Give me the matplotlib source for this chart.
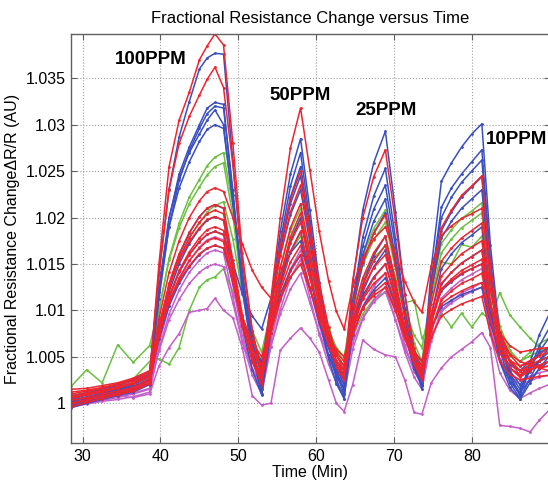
import numpy as np
import matplotlib
matplotlib.use("Agg")
import matplotlib.pyplot as plt

plt.rcParams['font.family'] = ['Liberation Sans', 'DejaVu Sans']

# sample times (min)
time_min = [28.5, 30.5, 32.5, 34.5, 36.5, 38.6,
            39.8, 41.1, 42.4, 43.7, 45.0, 46.0, 47.0, 48.1,
            49.3, 50.5, 51.8, 53.0,
            54.2, 55.4, 56.7, 58.0,
            59.2, 60.4, 61.6, 62.6, 63.6,
            64.7, 66.0, 67.4, 68.9,
            70.2, 71.4, 72.6, 73.6,
            74.8, 76.1, 77.4, 78.7, 80.0, 81.3,
            82.4, 83.6, 84.9, 86.2,
            87.5, 88.7, 89.9]

# fractional resistance change, stored as (R/R0 - 1) * 1e4
blue_1 = [2, 6, 10, 14, 20, 30, 141, 231, 287, 325, 360, 372, 377, 376, 261, 145, 62, 15, 110, 185, 247, 285, 208, 131, 70, 32, 10, 129, 208, 259, 293, 206, 118, 53, 20, 146, 239, 259, 276, 290, 301, 170, 74, 30, 10, 44, 74, 95]
blue_2 = [0, 5, 8, 13, 18, 26, 121, 199, 247, 276, 300, 318, 324, 322, 224, 123, 51, 10, 101, 174, 234, 270, 196, 122, 63, 26, 5, 109, 179, 223, 253, 177, 101, 44, 15, 131, 211, 232, 247, 260, 273, 154, 66, 27, 8, 37, 62, 80]
blue_3 = [-3, 3, 7, 10, 16, 24, 112, 190, 240, 272, 296, 312, 320, 318, 230, 128, 59, 20, 102, 168, 222, 255, 188, 121, 68, 34, 15, 107, 169, 209, 235, 168, 101, 50, 25, 132, 200, 222, 238, 250, 262, 151, 69, 32, 15, 37, 56, 70]
blue_4 = [4, 9, 12, 17, 22, 32, 125, 200, 243, 270, 290, 305, 316, 300, 215, 133, 67, 30, 105, 165, 215, 245, 182, 119, 70, 38, 20, 104, 160, 196, 220, 156, 92, 44, 20, 121, 186, 206, 222, 233, 244, 136, 58, 22, 5, 27, 46, 60]
blue_5 = [8, 11, 15, 19, 25, 34, 120, 190, 232, 260, 282, 295, 300, 296, 217, 134, 74, 40, 107, 160, 203, 230, 173, 115, 70, 41, 25, 101, 151, 183, 205, 149, 93, 51, 30, 120, 178, 196, 210, 220, 230, 136, 66, 35, 20, 34, 46, 55]
blue_6 = [-2, 2, 6, 9, 14, 22, 80, 128, 160, 183, 201, 210, 214, 210, 148, 83, 36, 9, 76, 129, 173, 200, 145, 91, 48, 21, 5, 79, 128, 159, 180, 128, 76, 37, 18, 95, 145, 161, 173, 181, 190, 106, 45, 17, 4, 22, 38, 50]
blue_7 = [-5, 0, 4, 8, 12, 20, 74, 120, 150, 172, 188, 197, 201, 197, 145, 88, 48, 25, 81, 126, 163, 185, 137, 90, 52, 29, 15, 78, 120, 147, 165, 119, 73, 39, 22, 86, 128, 141, 151, 158, 165, 96, 46, 23, 12, 25, 37, 45]
blue_8 = [3, 7, 11, 15, 20, 28, 75, 114, 141, 160, 174, 182, 185, 182, 151, 118, 94, 80, 113, 140, 162, 175, 136, 97, 66, 46, 35, 83, 116, 136, 150, 115, 80, 53, 40, 90, 121, 131, 139, 145, 150, 96, 56, 38, 30, 38, 45, 50]
blue_9 = [1, 4, 9, 12, 18, 25, 69, 105, 129, 147, 160, 167, 170, 167, 130, 90, 61, 45, 85, 117, 144, 160, 124, 87, 59, 40, 30, 74, 104, 122, 135, 106, 77, 56, 45, 81, 104, 111, 117, 121, 125, 85, 55, 41, 35, 45, 54, 60]

red_1 = [5, 9, 12, 16, 21, 28, 150, 255, 305, 335, 370, 385, 398, 386, 280, 162, 78, 30, 102, 159, 206, 235, 178, 120, 75, 46, 30, 132, 200, 244, 273, 195, 117, 59, 30, 127, 189, 208, 224, 234, 245, 148, 77, 45, 30, 42, 52, 60]
red_2 = [10, 13, 16, 20, 24, 32, 138, 230, 280, 309, 332, 349, 362, 340, 257, 153, 78, 35, 110, 170, 220, 250, 190, 130, 82, 52, 35, 106, 153, 183, 203, 149, 95, 55, 35, 107, 153, 167, 178, 186, 194, 122, 70, 46, 35, 41, 46, 50]
red_3 = [6, 10, 13, 18, 22, 30, 91, 141, 175, 200, 218, 228, 232, 228, 200, 172, 143, 125, 113, 200, 275, 318, 251, 185, 132, 99, 80, 126, 157, 177, 190, 161, 131, 109, 98, 148, 181, 191, 199, 204, 210, 134, 77, 52, 40, 46, 51, 55]
red_4 = [0, 4, 8, 11, 16, 24, 81, 129, 161, 184, 201, 210, 214, 210, 154, 95, 52, 28, 93, 146, 189, 215, 163, 111, 71, 45, 30, 93, 135, 162, 180, 132, 84, 48, 30, 95, 137, 150, 161, 168, 175, 109, 60, 38, 28, 35, 41, 45]
red_5 = [-4, 1, 5, 9, 13, 21, 77, 124, 156, 178, 195, 204, 208, 204, 148, 88, 44, 20, 85, 137, 179, 205, 155, 104, 65, 39, 25, 86, 127, 153, 170, 124, 77, 42, 25, 88, 129, 141, 151, 158, 165, 107, 64, 44, 35, 37, 39, 40]
red_6 = [12, 14, 17, 21, 26, 34, 84, 126, 154, 174, 189, 198, 201, 197, 148, 95, 57, 35, 91, 136, 173, 195, 152, 108, 74, 52, 40, 90, 124, 146, 160, 118, 77, 46, 30, 86, 123, 134, 143, 149, 155, 106, 69, 53, 45, 41, 38, 35]
red_7 = [-1, 3, 7, 10, 15, 22, 72, 114, 143, 163, 178, 187, 190, 186, 137, 84, 46, 25, 81, 126, 163, 185, 141, 97, 63, 41, 28, 79, 113, 135, 150, 111, 72, 43, 28, 78, 111, 121, 129, 134, 140, 91, 54, 38, 30, 36, 41, 45]
red_8 = [8, 11, 14, 17, 22, 30, 77, 115, 142, 160, 174, 182, 185, 181, 139, 92, 59, 40, 86, 122, 152, 170, 135, 100, 73, 55, 45, 85, 112, 129, 140, 108, 76, 52, 40, 81, 107, 115, 121, 126, 130, 90, 60, 46, 40, 43, 38, 40]
red_9 = [3, 6, 10, 13, 17, 26, 72, 110, 135, 154, 167, 175, 178, 174, 131, 83, 49, 30, 76, 112, 142, 160, 125, 90, 63, 45, 35, 75, 102, 119, 130, 100, 69, 46, 35, 71, 94, 101, 107, 111, 115, 75, 45, 31, 25, 27, 29, 30]
red_10 = [15, 16, 19, 22, 27, 35, 76, 109, 132, 148, 161, 167, 170, 167, 132, 93, 66, 50, 85, 113, 136, 150, 122, 94, 72, 58, 50, 82, 103, 116, 125, 99, 74, 55, 45, 92, 123, 132, 140, 145, 150, 107, 76, 62, 55, 57, 59, 60]

green_1 = [6, 10, 15, 19, 24, 32, 99, 156, 194, 222, 241, 256, 265, 270, 212, 132, 72, 40, 100, 147, 186, 210, 164, 118, 81, 58, 45, 113, 159, 188, 208, 156, 104, 65, 45, 122, 172, 187, 199, 207, 216, 139, 83, 57, 45, 51, 56, 60]
green_2 = [18, 36, 22, 63, 44, 62, 101, 154, 189, 215, 233, 246, 255, 259, 202, 122, 62, 30, 90, 137, 176, 200, 155, 110, 75, 53, 40, 105, 149, 176, 195, 145, 96, 59, 40, 114, 162, 177, 189, 197, 205, 129, 72, 47, 35, 41, 46, 50]
green_3 = [0, 5, 9, 13, 18, 26, 79, 125, 156, 179, 194, 206, 213, 217, 177, 120, 78, 55, 99, 134, 163, 180, 144, 107, 79, 60, 50, 100, 134, 156, 170, 135, 100, 73, 60, 114, 152, 150, 171, 168, 180, 119, 75, 54, 45, 55, 64, 70]
green_4 = [8, 12, 16, 20, 26, 45, 48, 42, 60, 100, 125, 133, 136, 145, 120, 92, 62, 45, 80, 112, 136, 150, 122, 95, 70, 52, 40, 72, 96, 112, 120, 115, 108, 111, 70, 85, 97, 82, 97, 82, 97, 90, 119, 95, 82, 70, 60, 55]

magenta_1 = [-2, 0, 3, 6, 10, 15, 64, 105, 133, 153, 168, 176, 179, 176, 127, 74, 36, 15, 68, 110, 144, 165, 124, 84, 52, 32, 20, 70, 104, 126, 140, 102, 63, 34, 20, 76, 113, 124, 133, 139, 145, 89, 48, 29, 20, 24, 28, 30]
magenta_2 = [-4, -1, 2, 4, 7, 12, 58, 96, 122, 141, 154, 162, 165, 162, 115, 66, 30, 10, 61, 101, 135, 155, 114, 74, 42, 22, 10, 58, 91, 111, 125, 90, 55, 28, 15, 67, 100, 110, 119, 124, 130, 74, 33, 14, 5, 11, 16, 20]
magenta_3 = [2, 0, 5, 8, 6, 10, 40, 60, 75, 98, 100, 102, 113, 100, 92, 60, 8, -2, 0, 57, 70, 81, 70, 55, 25, 0, -9, 20, 68, 58, 52, 50, 25, -10, -12, 22, 38, 50, 58, 66, 76, 60, -24, -25, -27, -31, -18, -8]
magenta_4 = [0, 3, 5, 8, 11, 16, 56, 90, 112, 129, 141, 147, 150, 147, 108, 67, 37, 20, 62, 96, 123, 140, 108, 76, 50, 34, 25, 65, 92, 109, 120, 90, 59, 36, 25, 70, 99, 108, 115, 120, 125, 80, 47, 32, 25, 29, 33, 35]

groups = [
    ("#6cc040", [green_1, green_2, green_3, green_4]),
    ("#c45ec8", [magenta_1, magenta_2, magenta_3, magenta_4]),
    ("#3a4fc0", [blue_1, blue_2, blue_3, blue_4, blue_5, blue_6, blue_7, blue_8, blue_9]),
    ("#ee2530", [red_1, red_2, red_3, red_4, red_5, red_6, red_7, red_8, red_9, red_10]),
]

conc_labels = ["100PPM", "50PPM", "25PPM", "10PPM"]
label_x = [34.15, 53.95, 65.0, 81.85]
label_y = [1.03706, 1.03311, 1.0315, 1.02845]

fig = plt.figure(figsize=(5.48, 4.84), dpi=100)
ax = fig.add_axes([0.1296, 0.0837, 0.8732, 0.8461])

t = np.array(time_min)
for color, runs in groups:
    for run in runs:
        ax.plot(t, 1 + np.array(run) / 1e4, color=color, linewidth=1.1,
                marker='.', markersize=2)

for lab, x, y in zip(conc_labels, label_x, label_y):
    ax.text(x, y, lab, fontsize=13.5, fontweight='bold', ha='left', va='center')

ax.set_xlim(28.5, 90)
ax.set_ylim(0.99566, 1.03978)
ax.set_xticks([30, 40, 50, 60, 70, 80])
yt = [1, 1.005, 1.01, 1.015, 1.02, 1.025, 1.03, 1.035]
ax.set_yticks(yt)
ax.set_yticklabels(['1', '1.005', '1.01', '1.015', '1.02', '1.025', '1.03', '1.035'])

ax.grid(True, linestyle=':', color='#a0a0a0', linewidth=0.8)
ax.tick_params(direction='in', top=True, right=True, length=4,
               labelsize=11.5, pad=4, color='#606060')
for s in ax.spines.values():
    s.set_color('#606060')
    s.set_linewidth(1.0)

ax.set_title("Fractional Resistance Change versus Time", fontsize=12, pad=8)
ax.set_xlabel("Time (Min)", fontsize=11.5, labelpad=1)
ax.set_ylabel("Fractional Resistance Change\u0394R/R (AU)", fontsize=11.5, labelpad=4)

fig.savefig("out.png", dpi=100)
